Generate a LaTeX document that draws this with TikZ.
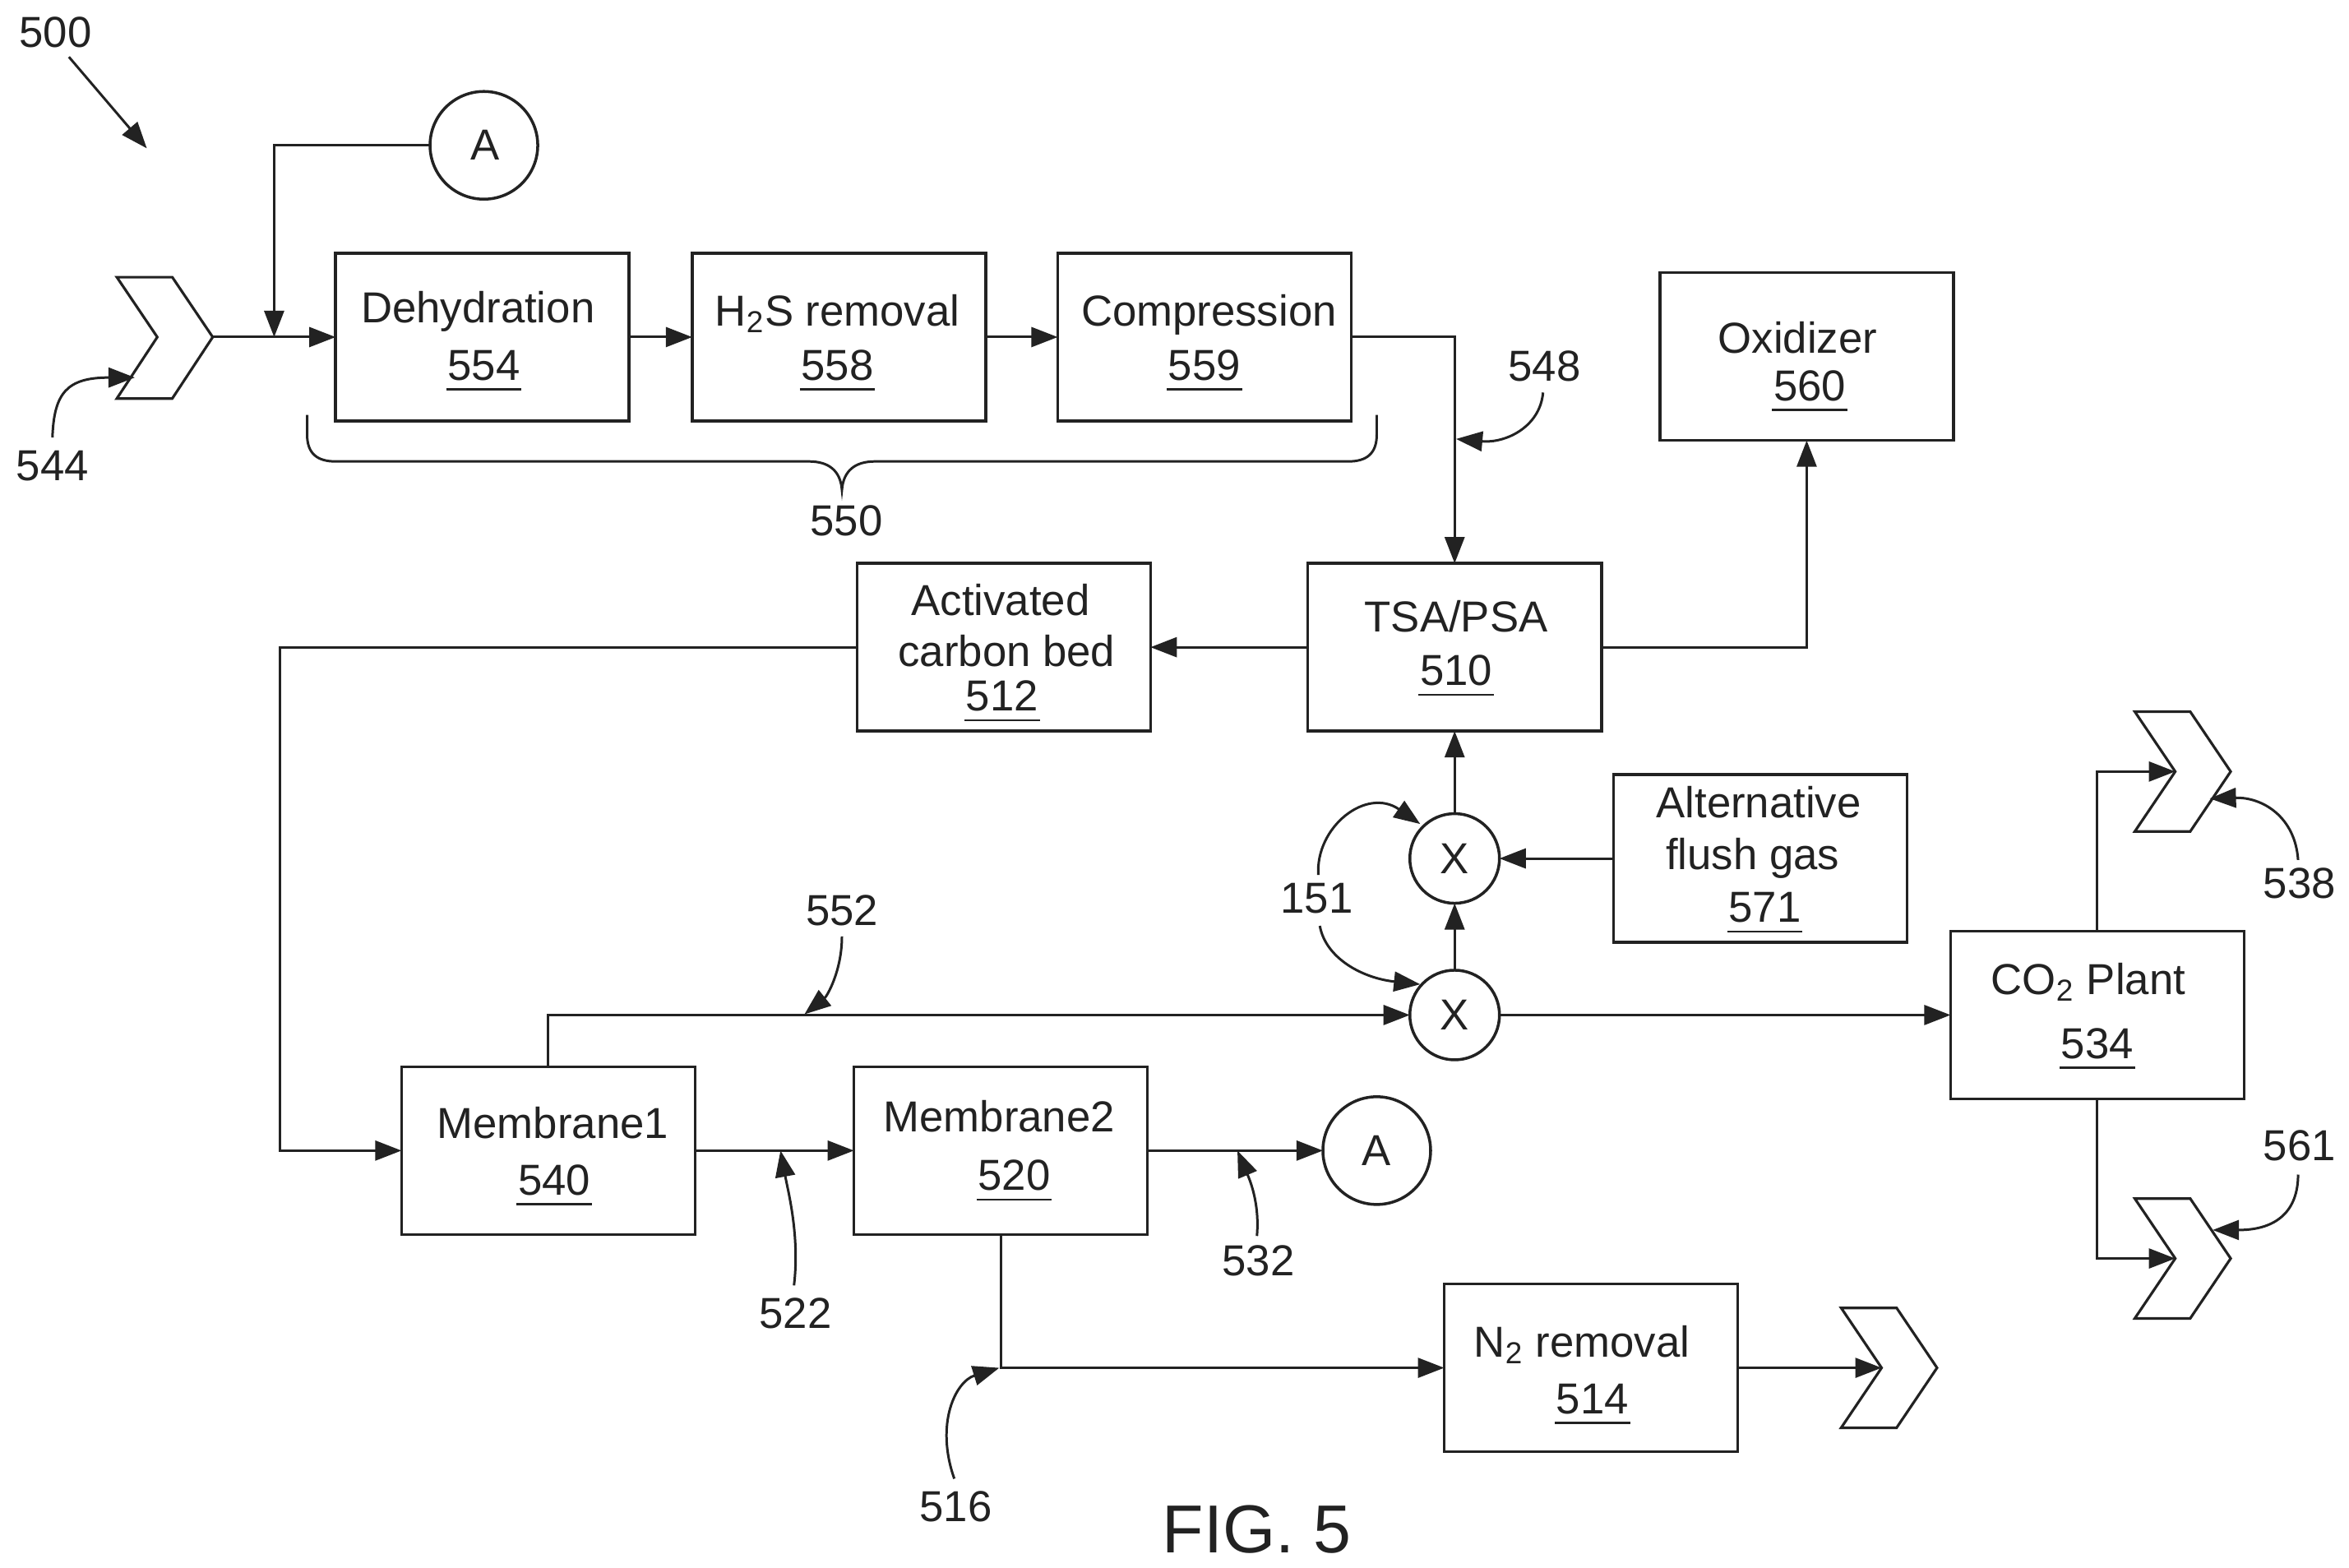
\documentclass[tikz,border=0pt]{standalone}
\usepackage{fontspec}
\setmainfont{Liberation Sans}
\usetikzlibrary{arrows.meta}
\definecolor{ink}{HTML}{222222}
\newcommand\ulnum[1]{\setbox0\hbox{#1}\hbox{\rlap{\hskip-0.5pt\raisebox{-3.6pt}{\rule{\dimexpr\wd0+1pt\relax}{0.8pt}}}\box0}}
\tikzset{
  line/.style={draw=ink,line width=0.85pt,-{Triangle[length=0.32cm,width=0.24cm]}},
  plain/.style={draw=ink,line width=0.85pt},
  boxn/.style={draw=ink,line width=1pt,minimum width=3.57cm,minimum height=2.04cm,inner sep=0pt,outer sep=0pt},
  bigc/.style={circle,draw=ink,line width=1pt,minimum size=1.31cm,inner sep=0pt,outer sep=0pt,text=ink,font=\fontsize{15}{18}\selectfont},
  xc/.style={circle,draw=ink,line width=1pt,minimum size=1.09cm,inner sep=0pt,outer sep=0pt,text=ink,font=\fontsize{15}{18}\selectfont},
  chev/.style={draw=ink,line width=0.9pt,fill=white,line join=miter},
  lab/.style={anchor=base,inner sep=0pt,xshift=0.018cm,yshift=-0.175cm,text=ink,font=\fontsize{15}{18}\selectfont},
}
\begin{document}
\begin{tikzpicture}[x=0.018221cm,y=-0.018221cm]
\useasboundingbox[fill=white] (0,0) rectangle (1568,1046.6);
% boxes
\node[boxn] (dehy) at (322,225) {};
\node[boxn] (h2s) at (560,225) {};
\node[boxn] (comp) at (804,225) {};
\node[boxn] (oxi) at (1206,238) {};
\node[boxn] (tsa) at (971,432) {};
\node[boxn] (acb) at (670,432) {};
\node[boxn] (alt) at (1175,573) {};
\node[boxn] (co2) at (1400,677.5) {};
\node[boxn] (mem1) at (366,768) {};
\node[boxn] (mem2) at (668,768) {};
\node[boxn] (ntwo) at (1062,913) {};
% circles
\node[bigc,text depth=0pt] (atop) at (323,97) {\hspace{1pt}A};
\node[bigc] (alow) at (919,768) {A};
\node[xc] (xup) at (971,573) {X};
\node[xc] (xlo) at (971,677.5) {X};
% box labels
\node[lab] (t1) at (318,206) {Dehydration};
\node[lab] (n1) at (322,244) {\ulnum{554}};
\node[lab] (t2) at (558,208) {H\textsubscript{2}S removal};
\node[lab] (n2) at (558,244) {\ulnum{558}};
\node[lab] (t3) at (806,208) {Compression};
\node[lab] (n3) at (803,244) {\ulnum{559}};
\node[lab] (t4) at (1199,226) {Oxidizer};
\node[lab] (n4) at (1207,258) {\ulnum{560}};
\node[lab] (t5) at (971,412) {TSA/PSA};
\node[lab] (n5) at (971,448) {\ulnum{510}};
\node[lab] (t6) at (667,401) {Activated};
\node[lab] (t6b) at (671,435) {carbon bed};
\node[lab] (n6) at (668,465) {\ulnum{512}};
\node[lab] (t7) at (1173,536) {Alternative};
\node[lab] (t7b) at (1169,571) {flush gas};
\node[lab] (n7) at (1177,606) {\ulnum{571}};
\node[lab] (t8) at (1393,654) {CO\textsubscript{2} Plant};
\node[lab] (n8) at (1399,697) {\ulnum{534}};
\node[lab] (t9) at (368,750) {Membrane1};
\node[lab] (n9) at (369,788) {\ulnum{540}};
\node[lab] (t10) at (666,746) {Membrane2};
\node[lab] (n10) at (676,785) {\ulnum{520}};
\node[lab] (t11) at (1055,896) {N\textsubscript{2} removal};
\node[lab] (n11) at (1062,934) {\ulnum{514}};
% reference numerals
\node[lab] (r500) at (36,22) {500};
\node[lab] (r544) at (34,311) {544};
\node[lab] (r550) at (564,348) {550};
\node[lab] (r548) at (1030,245) {548};
\node[lab] (r552) at (561,608) {552};
\node[lab] (r151) at (878,600) {151};
\node[lab] (r538) at (1534,590) {538};
\node[lab] (r561) at (1534,765) {561};
\node[lab] (r532) at (839,842) {532};
\node[lab] (r522) at (530,877) {522};
\node[lab] (r516) at (637,1006) {516};
\node[anchor=base,inner sep=0pt,yshift=-0.3cm,text=ink,font=\fontsize{23.5}{28}\selectfont] (fig) at (839,1020) {FIG. 5};
% chevrons
\draw[chev] (78,185) -- (115,185) -- (142,225) -- (115,266) -- (78,266) -- (105,225) -- cycle;
\draw[chev] (1425,475) -- (1462,475) -- (1489,515) -- (1462,555) -- (1425,555) -- (1452,515) -- cycle;
\draw[chev] (1425,800) -- (1462,800) -- (1489,840) -- (1462,880) -- (1425,880) -- (1452,840) -- cycle;
\draw[chev] (1229,873) -- (1266,873) -- (1293,913) -- (1266,953) -- (1229,953) -- (1256,913) -- cycle;
\coordinate (c1tip) at (142,225);
\coordinate (c2n) at (1452,515);
\coordinate (c3n) at (1452,840);
\coordinate (c4n) at (1256,913);
\coordinate (join) at (183,225);
\coordinate (leftbus) at (187,768);
% connectors
\draw[line] (c1tip) -- (dehy.west);
\draw[line] (atop.west) -| (join);
\draw[line] (dehy.east) -- (h2s.west);
\draw[line] (h2s.east) -- (comp.west);
\draw[line] (comp.east) -| (tsa.north);
\draw[line] (tsa.east) -| (oxi.south);
\draw[line] (tsa.west) -- (acb.east);
\draw[line] (acb.west) -| (leftbus) -- (mem1.west);
\draw[line] (mem1.east) -- (mem2.west);
\draw[line] (mem2.east) -- (alow.west);
\draw[line] (mem1.north) |- (xlo.west);
\draw[line] (xlo.north) -- (xup.south);
\draw[line] (xup.north) -- (tsa.south);
\draw[line] (alt.west) -- (xup.east);
\draw[line] (xlo.east) -- (co2.west);
\draw[line] (co2.north) |- (c2n);
\draw[line] (co2.south) |- (c3n);
\draw[line] (mem2.south) |- (ntwo.west);
\draw[line] (ntwo.east) -- (c4n);
% brace
\draw[plain] (205,277) -- (205,290) .. controls (205,303) and (212,308) .. (224,308) -- (540,308) .. controls (553,308) and (561,314) .. (562,327) .. controls (563,314) and (571,308) .. (584,308) -- (900,308) .. controls (912,308) and (919,303) .. (919,290) -- (919,277);
% callouts
\coordinate (a500) at (46,38); \coordinate (b500) at (98,99);
\draw[line] (a500) -- (b500);
\coordinate (a544) at (35,292); \coordinate (b544) at (90,252);
\draw[line] (a544) .. controls (36,262) and (45,252) .. (b544);
\coordinate (a548) at (1030,262); \coordinate (b548) at (972,293);
\draw[line] (a548) .. controls (1028,285) and (1005,296) .. (b548);
\coordinate (a552) at (562,625); \coordinate (b552) at (537,677);
\draw[line] (a552) .. controls (562,648) and (552,665) .. (b552);
\coordinate (a151) at (880,584); \coordinate (b151) at (948,550);
\draw[line] (a151) .. controls (878,552) and (912,525) .. (b151);
\coordinate (c151) at (881,618); \coordinate (d151) at (948,657);
\draw[line] (c151) .. controls (885,640) and (910,653) .. (d151);
\coordinate (a538) at (1534,574); \coordinate (b538) at (1475,533);
\draw[line] (a538) .. controls (1532,545) and (1510,532) .. (b538);
\coordinate (a561) at (1534,784); \coordinate (b561) at (1477,821);
\draw[line] (a561) .. controls (1534,808) and (1520,821) .. (b561);
\coordinate (a532) at (839,825); \coordinate (b532) at (826,768);
\draw[line] (a532) .. controls (841,803) and (834,787) .. (b532);
\coordinate (a522) at (530,858); \coordinate (b522) at (521,768);
\draw[line] (a522) .. controls (534,825) and (526,795) .. (b522);
\coordinate (a516) at (637,987); \coordinate (b516) at (667,913);
\draw[line] (a516) .. controls (624,950) and (638,922) .. (b516);
\end{tikzpicture}
\end{document}
